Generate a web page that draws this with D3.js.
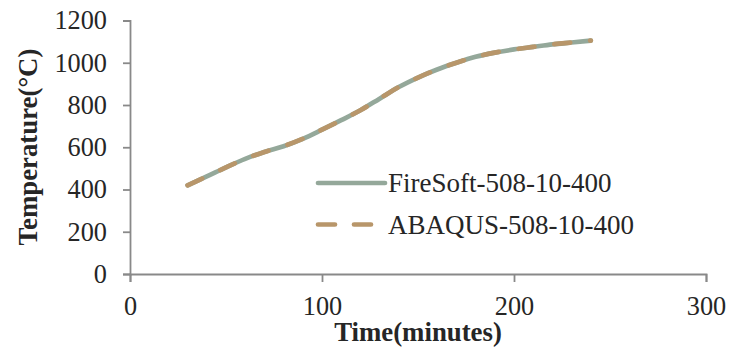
<!DOCTYPE html>
<html><head><meta charset="utf-8">
<script src="https://cdn.jsdelivr.net/npm/d3@7"></script>
<style>body{margin:0;background:#fff}svg{display:block}</style>
</head><body>
<svg id="c" width="733" height="349"></svg>
<script>
const times = [30,40,50,60,70,80,90,100,110,120,130,140,150,160,170,180,190,200,210,220,230,240];
const fireSoft = [420,462,505,545,578,605,640,683,728,775,830,885,930,968,1000,1028,1048,1063,1075,1087,1096,1105];
const abaqus   = [420,462,505,545,578,605,640,683,728,775,830,885,930,968,1000,1028,1048,1063,1075,1087,1096,1105];
const xTicks = [0,100,200,300];
const yTicks = [0,200,400,600,800,1000,1200];
const seriesNames = ["FireSoft-508-10-400","ABAQUS-508-10-400"];

const svg = d3.select("#c");
const x = d3.scaleLinear().domain([0,300]).range([130,706]);
const y = d3.scaleLinear().domain([0,1200]).range([274,20.5]);
const font = "'Liberation Serif'";
const txt = "#262626";

const xa = svg.append("g").attr("transform","translate(0,274)")
  .call(d3.axisBottom(x).tickValues(xTicks).tickSize(8).tickPadding(14).tickFormat(d3.format("d")));
const ya = svg.append("g").attr("transform","translate(130,0)")
  .call(d3.axisLeft(y).tickValues(yTicks).tickSize(7).tickPadding(16).tickFormat(d3.format("d")));
[xa,ya].forEach(a=>{
  a.select(".domain").attr("stroke","#898989").attr("stroke-width",1.8);
  a.selectAll(".tick line").attr("stroke","#898989").attr("stroke-width",1.8);
  a.selectAll("text").attr("fill",txt).style("font-family",font).style("font-size","26.3px");
});

const line = d3.line().x((d,i)=>x(times[i])).y(d=>y(d)).curve(d3.curveMonotoneX);
svg.append("path").datum(fireSoft).attr("d",line).attr("fill","none")
  .attr("stroke","#94A89A").attr("stroke-width",4.7).attr("stroke-linecap","round");
svg.append("path").datum(abaqus).attr("d",line).attr("fill","none")
  .attr("stroke","#B8966A").attr("stroke-width",4.7).attr("stroke-dasharray","16,20").attr("stroke-linecap","round");

// legend
const lg = svg.append("g");
lg.append("line").attr("x1",318).attr("x2",385).attr("y1",183).attr("y2",183)
  .attr("stroke","#94A89A").attr("stroke-width",4.7).attr("stroke-linecap","round");
lg.append("line").attr("x1",318).attr("x2",374).attr("y1",224.5).attr("y2",224.5)
  .attr("stroke","#B8966A").attr("stroke-width",4.7).attr("stroke-dasharray","17,19").attr("stroke-linecap","round");
[[seriesNames[0],192],[seriesNames[1],233.5]].forEach(([t,yy])=>{
  lg.append("text").attr("x",388).attr("y",yy).text(t).attr("fill",txt)
    .style("font-family",font).style("font-size","27px");
});

svg.append("text").attr("x",418).attr("y",341).attr("text-anchor","middle")
  .style("font-family",font).style("font-size","26.8px").style("font-weight","bold").attr("fill",txt)
  .text("Time(minutes)");
svg.append("text").attr("transform","translate(37,147) rotate(-90)").attr("text-anchor","middle")
  .style("font-family",font).style("font-size","26.8px").style("font-weight","bold").attr("fill",txt)
  .text("Temperature(°C)");
</script>
</body></html>
